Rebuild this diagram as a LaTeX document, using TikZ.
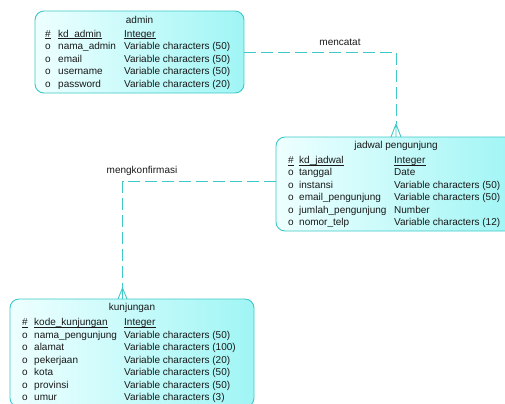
\documentclass[tikz,border=0pt]{standalone}
\usepackage{fontspec}
\setmainfont{Liberation Sans}
\definecolor{edge}{RGB}{62,200,200}
\definecolor{fillR}{RGB}{160,245,245}
\definecolor{fillL}{RGB}{238,255,255}
\definecolor{ink}{RGB}{25,25,25}
\begin{document}
\begin{tikzpicture}[x=1bp,y=-1bp,
  entity/.style={draw=edge, line width=0.9bp, rounded corners=9bp,
    left color=fillL, right color=fillR, inner sep=0, outer sep=0},
  txt/.style={inner sep=0, anchor=base west, text=ink,
    font=\fontsize{10bp}{11bp}\selectfont},
  ttl/.style={txt, anchor=base},
  keyline/.style={draw=ink, line width=0.6bp},
  rel/.style={draw=edge, line width=1bp, dash pattern=on 12bp off 5bp},
  foot/.style={draw=edge, line width=0.9bp}]
\useasboundingbox (0,0) rectangle (505,403);
\clip (0,0) rectangle (505,403);

% entity boxes
\node[entity, minimum width=209bp, minimum height=82bp] (admin) at (139.5,52) {};
\node[entity, minimum width=240bp, minimum height=94bp] (jadwal) at (396,184) {};
\node[entity, minimum width=244bp, minimum height=108bp] (kunjungan) at (132,353) {};

% relationship: mencatat
\coordinate (m1) at (396,52);
\coordinate (mf) at (396,124);
\draw[rel] (admin.east) -- (m1) -- (mf);
\draw[foot] (mf) -- ([xshift=-5bp]jadwal.north -| mf)
            (mf) -- (jadwal.north -| mf)
            (mf) -- ([xshift=5bp]jadwal.north -| mf);
\node[ttl] (lblmencatat) at (340,45.5) {mencatat};

% relationship: mengkonfirmasi
\coordinate (k1) at (122.5,181);
\coordinate (kf) at (122.5,288);
\draw[rel] (jadwal.west |- k1) -- (k1) -- (kf);
\draw[foot] (kf) -- ([xshift=-4.5bp]kunjungan.north -| kf)
            (kf) -- (kunjungan.north -| kf)
            (kf) -- ([xshift=4.5bp]kunjungan.north -| kf);
\node[ttl] (lblkonf) at (142,173.5) {mengkonfirmasi};

% admin attributes
\node[ttl] (admin-t) at (139.5,23.5) {admin};
\node[txt] (admin-h) at (45,37) {\#};
\node[txt] (admin-k) at (58,37) {kd\_admin};
\node[txt] (admin-kt) at (124,37) {Integer};
\foreach \n/\t [count=\i] in {nama\_admin/Variable characters (50),
    email/Variable characters (50), username/Variable characters (50),
    password/Variable characters (20)} {
  \node[txt] (admin-o\i) at (45,37+12.6*\i) {o};
  \node[txt] (admin-n\i) at (58,37+12.6*\i) {\n};
  \node[txt] (admin-d\i) at (124,37+12.6*\i) {\t};
}
\foreach \a in {admin-h,admin-k,admin-kt}
  \draw[keyline] ([yshift=-1.6bp]\a.base west) -- ([yshift=-1.6bp]\a.base east);

% jadwal pengunjung attributes
\node[ttl] (jadwal-t) at (396,148.5) {jadwal pengunjung};
\node[txt] (jadwal-h) at (288,163.5) {\#};
\node[txt] (jadwal-k) at (299,163.5) {kd\_jadwal};
\node[txt] (jadwal-kt) at (394,163.5) {Integer};
\foreach \n/\t [count=\i] in {tanggal/Date, instansi/Variable characters (50),
    email\_pengunjung/Variable characters (50), jumlah\_pengunjung/Number,
    nomor\_telp/Variable characters (12)} {
  \node[txt] (jadwal-o\i) at (288,163.5+12.4*\i) {o};
  \node[txt] (jadwal-n\i) at (299,163.5+12.4*\i) {\n};
  \node[txt] (jadwal-d\i) at (394,163.5+12.4*\i) {\t};
}
\foreach \a in {jadwal-h,jadwal-k,jadwal-kt}
  \draw[keyline] ([yshift=-1.6bp]\a.base west) -- ([yshift=-1.6bp]\a.base east);

% kunjungan attributes
\node[ttl] (kunj-t) at (132,310.5) {kunjungan};
\node[txt] (kunj-h) at (22,325.5) {\#};
\node[txt] (kunj-k) at (34,325.5) {kode\_kunjungan};
\node[txt] (kunj-kt) at (124,325.5) {Integer};
\foreach \n/\t [count=\i] in {nama\_pengunjung/Variable characters (50),
    alamat/Variable characters (100), pekerjaan/Variable characters (20),
    kota/Variable characters (50), provinsi/Variable characters (50),
    umur/Variable characters (3)} {
  \node[txt] (kunj-o\i) at (22,325.5+12.5*\i) {o};
  \node[txt] (kunj-n\i) at (34,325.5+12.5*\i) {\n};
  \node[txt] (kunj-d\i) at (124,325.5+12.5*\i) {\t};
}
\foreach \a in {kunj-h,kunj-k,kunj-kt}
  \draw[keyline] ([yshift=-1.6bp]\a.base west) -- ([yshift=-1.6bp]\a.base east);
\end{tikzpicture}
\end{document}
